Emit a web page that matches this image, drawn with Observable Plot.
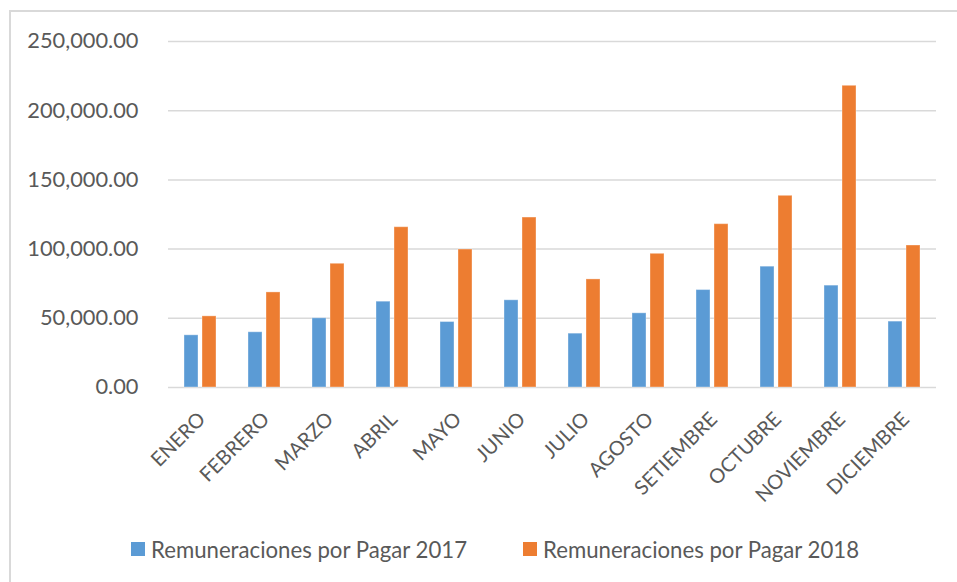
<!DOCTYPE html>
<html>
<head>
<meta charset="utf-8">
<script src="https://cdn.jsdelivr.net/npm/d3@7"></script>
<script src="https://cdn.jsdelivr.net/npm/@observablehq/plot@0.6"></script>
<style>
  html, body { margin: 0; padding: 0; background: #fff; }
  body { width: 957px; height: 582px; position: relative; overflow: hidden; font-family: Lato, "Open Sans", sans-serif; }
  #frame { position: absolute; left: 9px; top: 10px; width: 960px; height: 600px; border-left: 2px solid #d9d9d9; border-top: 2px solid #d9d9d9; box-sizing: border-box; }
  #chart { position: absolute; left: 0; top: 0; }
  .legend { position: absolute; top: 535px; height: 28px; font-size: 22.2px; color: #595959; display: flex; align-items: center; white-space: nowrap; }
  .legend .sw { width: 14px; height: 14px; margin-right: 6px; display: inline-block; }
</style>
</head>
<body>
<div id="frame"></div>
<div id="chart"></div>
<div class="legend" style="left:131px"><span class="sw" style="background:#5B9BD5"></span><span id="l0"></span></div>
<div class="legend" style="left:523px"><span class="sw" style="background:#ED7D31"></span><span id="l1"></span></div>
<script>
const months = ["ENERO","FEBRERO","MARZO","ABRIL","MAYO","JUNIO","JULIO","AGOSTO","SETIEMBRE","OCTUBRE","NOVIEMBRE","DICIEMBRE"];
const series = ["Remuneraciones por Pagar 2017", "Remuneraciones por Pagar 2018"];
const values2017 = [37700, 39900, 50000, 62000, 47300, 63000, 38900, 53600, 70400, 87300, 73600, 47600];
const values2018 = [51400, 68700, 89400, 115800, 99700, 122800, 78100, 96600, 118000, 138500, 218000, 102600];
const yTicks = [0, 50000, 100000, 150000, 200000, 250000];
const colors = ["#5B9BD5", "#ED7D31"];

const data = months.flatMap((m, i) => [
  {month: m, series: series[0], value: values2017[i]},
  {month: m, series: series[1], value: values2018[i]}
]);

document.getElementById("l0").textContent = series[0];
document.getElementById("l1").textContent = series[1];

const fmt = d3.format(",.2f");

const chart = Plot.plot({
  width: 957,
  height: 520,
  marginTop: 41,
  marginBottom: 133,
  marginLeft: 164,
  marginRight: 17,
  style: {fontFamily: "Lato, 'Open Sans', sans-serif", background: "transparent"},
  fx: {domain: months, paddingInner: 0, paddingOuter: 0, axis: null},
  x: {domain: series, paddingInner: 0.2, paddingOuter: 0.87, axis: null},
  y: {domain: [0, 250000], axis: null},
  color: {domain: series, range: colors},
  marks: [
    Plot.ruleY(yTicks, {stroke: "#d9d9d9", strokeWidth: 1.5}),
    Plot.barY(data, {fx: "month", x: "series", y: "value", fill: "series", stroke: "#ffffff", strokeOpacity: 0.35, strokeWidth: 1}),
    Plot.text(months, {fx: d => d, frameAnchor: "bottom", text: d => d, rotate: -45, textAnchor: "end", dx: 6, dy: 33, fontSize: 20, fill: "#595959"}),
    Plot.axisY({ticks: yTicks, tickFormat: fmt, tickSize: 0, tickPadding: 30, fontSize: 21.8, color: "#595959", label: null, anchor: "left"})
  ]
});
document.getElementById("chart").appendChild(chart);
</script>
</body>
</html>
